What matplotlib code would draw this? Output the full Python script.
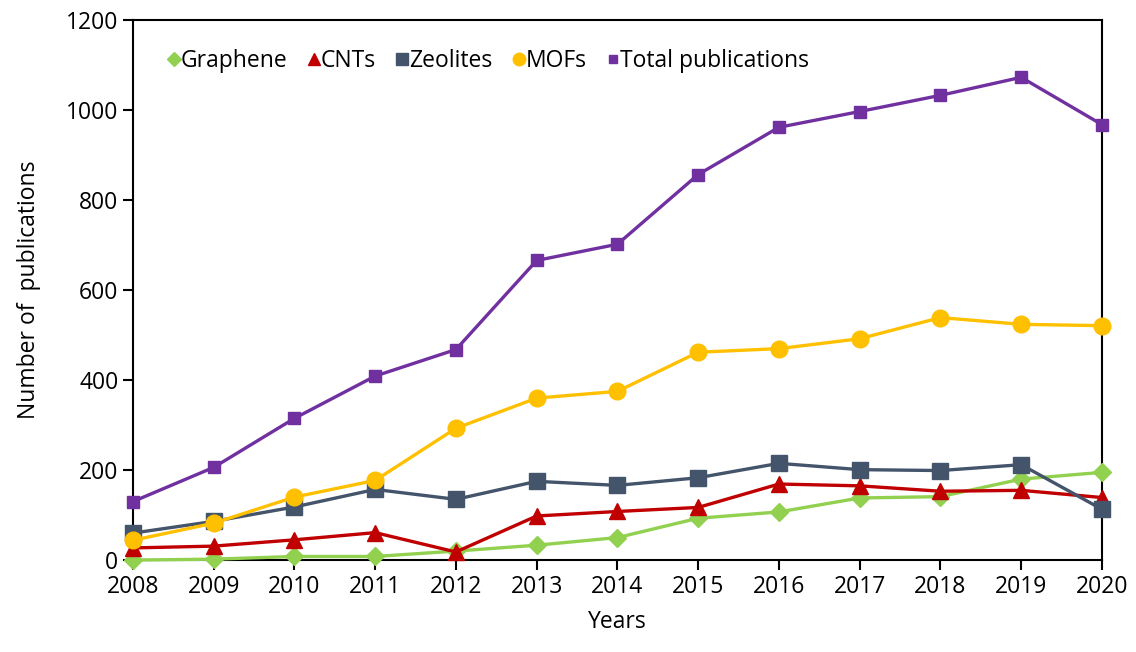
import matplotlib
matplotlib.use("Agg")
import matplotlib.pyplot as plt

years = [2008, 2009, 2010, 2011, 2012, 2013, 2014, 2015, 2016, 2017, 2018, 2019, 2020]
graphene = [0, 2, 8, 8, 20, 33, 50, 93, 107, 138, 141, 180, 195]
cnts = [27, 31, 45, 61, 18, 98, 108, 117, 169, 165, 153, 155, 139]
zeolites = [60, 86, 118, 157, 135, 175, 166, 183, 215, 201, 199, 212, 113]
mofs = [44, 82, 140, 177, 293, 360, 375, 462, 470, 492, 539, 524, 521]
total = [130, 206, 315, 409, 468, 666, 702, 857, 962, 997, 1033, 1073, 968]

plt.rcParams['font.family'] = ['Open Sans', 'DejaVu Sans']
FS = 16.5

fig = plt.figure(figsize=(11.36, 6.52), dpi=100)
ax = fig.add_axes([0.117, 0.141, 0.853, 0.828])

series = [
    ("Graphene", graphene, "#92D050", "D", 9),
    ("CNTs", cnts, "#C00000", "^", 11),
    ("Zeolites", zeolites, "#44546A", "s", 11),
    ("MOFs", mofs, "#FFC000", "o", 12),
    ("Total publications", total, "#7030A0", "s", 8.5),
]
for name, vals, col, mk, ms in series:
    ax.plot(years, vals, color=col, marker=mk, markersize=ms, linewidth=2.4,
            label=name, zorder=3, clip_on=False)

ax.set_xlim(2008, 2020)
ax.set_ylim(0, 1200)
ax.set_xticks(years)
ax.set_yticks(range(0, 1201, 200))
ax.tick_params(axis='both', labelsize=FS, direction='out', length=7, width=1.5)
for s in ax.spines.values():
    s.set_linewidth(1.5)
ax.set_xlabel("Years", fontsize=FS, labelpad=8)
ax.set_ylabel("Number of  publications", fontsize=FS, labelpad=18)

leg = ax.legend(loc='upper left', bbox_to_anchor=(0.015, 0.985), ncol=5, frameon=False,
                fontsize=FS, handlelength=0.5, handletextpad=0.05, columnspacing=0.9,
                markerscale=0.75)
for h in leg.legend_handles:
    h.set_linewidth(0)

fig.savefig("out.png", dpi=100)
